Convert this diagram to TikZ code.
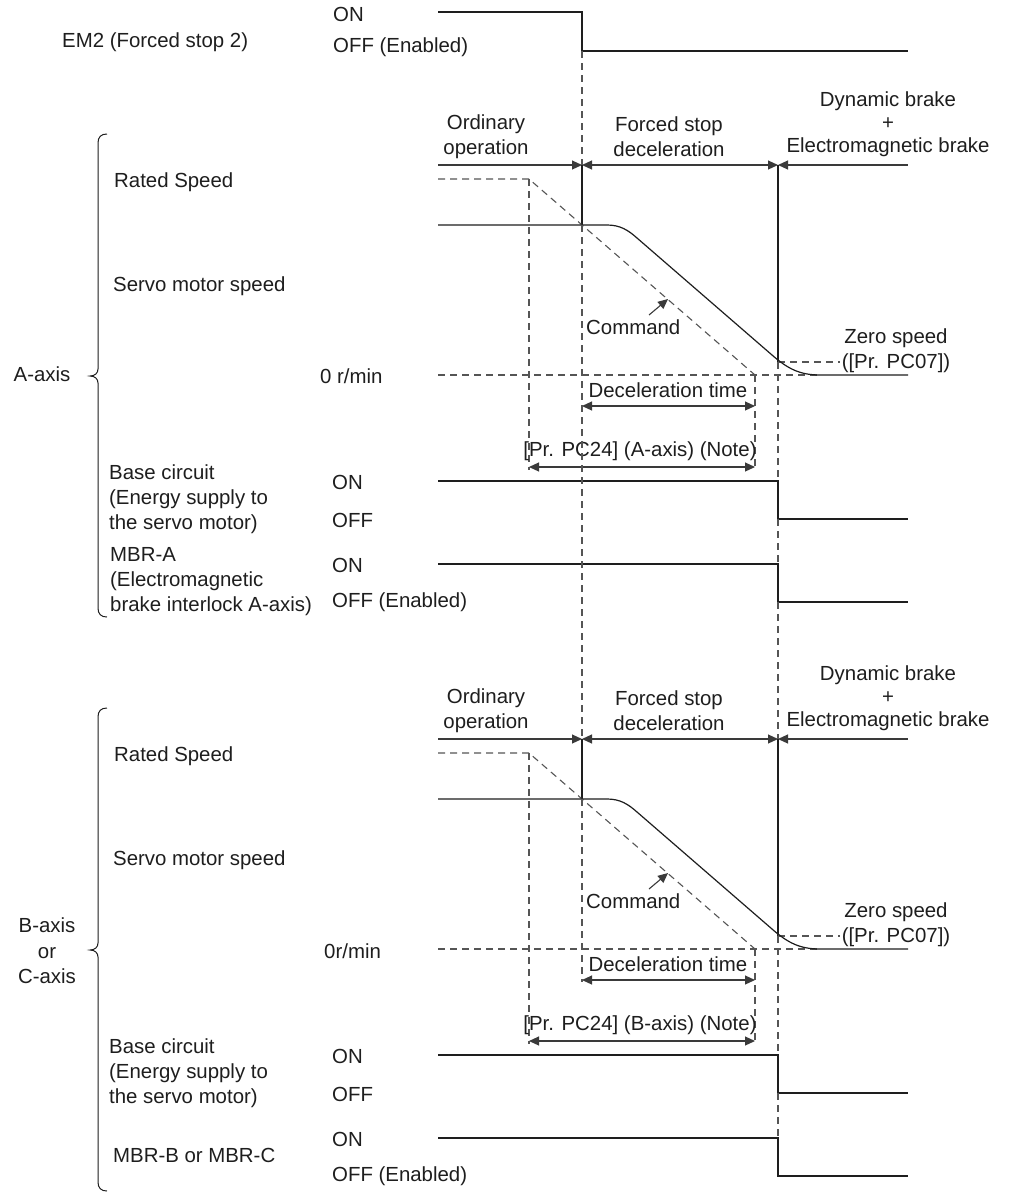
\documentclass[tikz,border=0pt]{standalone}
\usepackage{fontspec}
\setmainfont{Liberation Sans}
\usetikzlibrary{arrows.meta}
\definecolor{ink}{HTML}{1E1E1E}
\definecolor{dshc}{HTML}{555555}
\definecolor{arrc}{HTML}{3A3A3A}
\tikzset{
  txt/.style={font=\fontsize{20.4}{25}\selectfont, inner sep=0pt, text=ink},
  one/.style={txt, text height=14.6pt, text depth=0pt},
  solidln/.style={draw=ink, line width=1.2pt},
  dsh/.style={draw=dshc, line width=1.1pt, dash pattern=on 7pt off 5pt},
  arr/.style={draw=arrc, line width=1.1pt},
  tip/.tip={Triangle[length=10pt,width=9pt]},
}
\newcommand\speedchart[3]{%
\begin{scope}[yshift=-#2pt]
  % period arrows
  \coordinate (#1L) at (438,165);
  \coordinate (#1t1) at (582,165);
  \coordinate (#1t2) at (778,165);
  \coordinate (#1R) at (908,165);
  \draw[arr,-tip] (#1L) -- (#1t1);
  \draw[arr,tip-tip] (#1t1) -- (#1t2);
  \draw[arr,tip-] (#1t2) -- (#1R);
  \node[txt,align=center] (#1ord) at (486,137) {Ordinary\\operation};
  \node[txt,align=center] (#1fsd) at (669,137) {Forced stop\\deceleration};
  \node[txt,align=center,font=\fontsize{20.4}{23}\selectfont] (#1dyn) at (888,124) {Dynamic brake\\+\\Electromagnetic brake};
  % solid parts of the time markers
  \coordinate (#1p1) at (582,225);
  \coordinate (#1z2) at (778,362);
  \draw[solidln] (#1t1) -- (#1p1);
  \draw[solidln] (#1t2) -- (#1z2);
  % command (dashed)
  \coordinate (#1c0) at (438,179);
  \coordinate (#1c1) at (529,179);
  \coordinate (#1c2) at (755,375);
  \draw[dsh] (#1c0) -- (#1c1) -- (#1c2);
  \coordinate (#1c1b) at (529,470);
  \coordinate (#1c2b) at (755,470);
  \draw[dsh] (#1c1) -- (#1c1b);
  \draw[dsh] (#1c2) -- (#1c2b);
  % zero speed line
  \coordinate (#1z0) at (438,375);
  \coordinate (#1z1) at (820,375);
  \draw[dsh] (#1z0) -- (#1z1);
  \coordinate (#1zs) at (840,362);
  \draw[dsh] (#1z2) -- (#1zs);
  \node[txt,align=center] (#1zero) at (896,351) {Zero speed\\([Pr. PC07])};
  % actual speed
  \draw[solidln] (438,225) -- (607,225) .. controls (620,225) and (628,230) .. (637,238)
     -- (772,355) .. controls (788,369) and (800,375) .. (820,375) -- (908,375);
  % command label
  \node[one,anchor=west] (#1cmd) at (586,327) {Command};
  \coordinate (#1ct) at (668,299);
  \coordinate (#1cs) at (649,315);
  \draw[arr,-tip] (#1cs) -- (#1ct);
  % deceleration time
  \node[one] (#1dec) at (668,390) {Deceleration time};
  \coordinate (#1d0) at (582,406);
  \coordinate (#1d1) at (755,406);
  \draw[arr,tip-tip] (#1d0) -- (#1d1);
  % PC24
  \node[one] (#1pc) at (640,449) {[Pr. PC24] (#3-axis) (Note)};
  \coordinate (#1e0) at (529,467);
  \coordinate (#1e1) at (755,467);
  \draw[arr,tip-tip] (#1e0) -- (#1e1);
  % base circuit and brake interlock
  \draw[solidln] (438,481) -- (778,481) -- (778,519) -- (908,519);
  \draw[solidln] (438,564) -- (778,564) -- (778,602) -- (908,602);
  % left labels
  \node[one,anchor=west] (#1rs) at (114,180) {Rated Speed};
  \node[one,anchor=west] (#1sms) at (113,284) {Servo motor speed};
  \node[txt,anchor=west,align=left] (#1bc) at (109,499) {Base circuit\\(Energy supply to\\the servo motor)};
  \node[one,anchor=west] (#1on1) at (332,482) {ON};
  \node[one,anchor=west] (#1off1) at (332,520) {OFF};
  \node[one,anchor=west] (#1on2) at (332,565) {ON};
  \node[one,anchor=west] (#1off2) at (332,600) {OFF (Enabled)};
  % brace
  \draw[draw=ink, line width=1pt] (107,134) .. controls (101,134) and (98,137) .. (98,143)
     -- (98,369) .. controls (98,373) and (95,376) .. (90,376)
     .. controls (95,376) and (98,379) .. (98,383)
     -- (98,608) .. controls (98,614) and (101,617) .. (107,617);
\end{scope}}

\begin{document}
\begin{tikzpicture}[x=1pt,y=-1pt]
\useasboundingbox[fill=white] (0,0) rectangle (1013,1192);
% EM2
\node[one,anchor=west] (em2) at (62,40) {EM2 (Forced stop 2)};
\node[one,anchor=west] (em2on) at (333,14) {ON};
\node[one,anchor=west] (em2off) at (333,45) {OFF (Enabled)};
\draw[solidln] (438,12) -- (582,12) -- (582,51) -- (908,51);

\speedchart{a}{0}{A}
\speedchart{b}{574}{B}

% axis-specific labels
\node[one] (aax) at (42,374) {A-axis};
\node[one,anchor=west] (az) at (320,376) {0 r/min};
\node[txt,anchor=west,align=left] (ambr) at (110,582) {MBR-A\\(Electromagnetic\\brake interlock A-axis)};
\node[txt,align=center,font=\fontsize{20.4}{25.5}\selectfont] (bax) at (47,951) {B-axis\\or\\C-axis};
\node[one,anchor=west] (bz) at (324,951) {0r/min};
\node[one,anchor=west] (bmbr) at (113,1155) {MBR-B or MBR-C};

% continuous time-marker dashes
\draw[dsh] (582,51) -- (582,165);
\draw[dsh] (582,225) -- (582,738);
\draw[dsh] (582,799) -- (582,982);
\draw[dsh] (778,362) -- (778,481);
\draw[dsh] (778,519) -- (778,564);
\draw[dsh] (778,602) -- (778,739);
\draw[dsh] (778,936) -- (778,1055);
\draw[dsh] (778,1093) -- (778,1138);
\end{tikzpicture}
\end{document}
